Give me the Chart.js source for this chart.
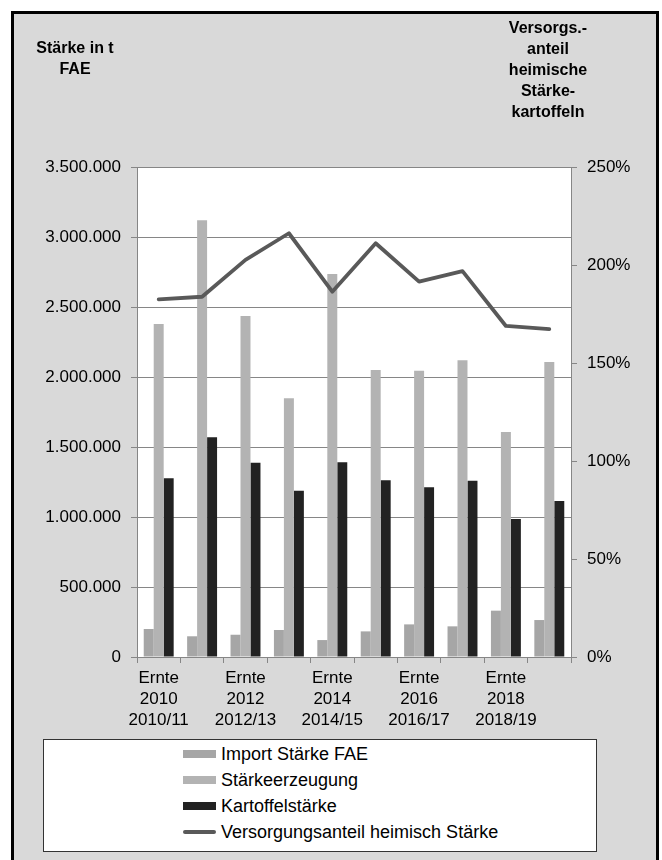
<!DOCTYPE html>
<html>
<head>
<meta charset="utf-8">
<script src="https://cdn.jsdelivr.net/npm/chart.js@4/dist/chart.umd.min.js"></script>
<style>
  html, body { margin: 0; padding: 0; background: #ffffff; }
  body { width: 662px; height: 860px; position: relative; overflow: hidden; font-family: "Liberation Sans", Arial, sans-serif; }
  #frame { position: absolute; left: 11px; top: 11px; width: 648px; height: 880px; box-sizing: border-box; border: 3px solid #000; background: #d9d9d9; }
  #c { position: absolute; left: 0; top: 0; }
  .ttl { position: absolute; font-weight: bold; font-size: 16px; line-height: 21px; color: #000; text-align: center; white-space: nowrap; }
  #legend { position: absolute; left: 43px; top: 739px; width: 554px; height: 113px; box-sizing: border-box; border: 1px solid #333; background: #fff; }
  .li { position: absolute; left: 139px; height: 22px; font-size: 18px; line-height: 22px; color: #000; white-space: nowrap; }
  .sw { position: absolute; left: 0; width: 33px; }
  .lt { position: absolute; left: 38px; top: 0; }
</style>
</head>
<body>
<div id="frame"></div>
<canvas id="c" width="662" height="860"></canvas>
<div class="ttl" style="left:25px; top:37px; width:100px;">Stärke in t<br>FAE</div>
<div class="ttl" style="left:488px; top:17px; width:120px;">Versorgs.-<br>anteil<br>heimische<br>Stärke-<br>kartoffeln</div>
<div id="legend"></div>
<script>
// ---- data ----
const categories = [
  ["Ernte", "2010", "2010/11"],
  ["Ernte", "2011", "2011/12"],
  ["Ernte", "2012", "2012/13"],
  ["Ernte", "2013", "2013/14"],
  ["Ernte", "2014", "2014/15"],
  ["Ernte", "2015", "2015/16"],
  ["Ernte", "2016", "2016/17"],
  ["Ernte", "2017", "2017/18"],
  ["Ernte", "2018", "2018/19"],
  ["Ernte", "2019", "2019/20"]
];
const importStaerkeFAE = [200000, 148000, 159000, 193000, 121000, 183000, 233000, 219000, 331000, 264000];
const staerkeerzeugung = [2378000, 3119000, 2436000, 1848000, 2736000, 2050000, 2045000, 2119000, 1607000, 2107000];
const kartoffelstaerke = [1276000, 1569000, 1388000, 1188000, 1391000, 1262000, 1212000, 1259000, 986000, 1114000];
const versorgungsanteil = [182.5, 183.8, 202.6, 216.2, 186.4, 211.1, 191.5, 196.9, 168.9, 167.3];
const seriesNames = ["Import Stärke FAE", "Stärkeerzeugung", "Kartoffelstärke", "Versorgungsanteil heimisch Stärke"];
const leftAxisTicks = [0, 500000, 1000000, 1500000, 2000000, 2500000, 3000000, 3500000];
const rightAxisTicks = [0, 50, 100, 150, 200, 250];

// ---- styling ----
const FONT = '"Liberation Sans", Arial, sans-serif';
const GRID = '#868686';
function fmtDE(v) { return String(Math.round(v)).replace(/\B(?=(\d{3})+(?!\d))/g, '.'); }

const plotBg = {
  id: 'plotBg',
  beforeDraw(chart) {
    const a = chart.chartArea, ctx = chart.ctx;
    ctx.save();
    ctx.fillStyle = '#ffffff';
    ctx.fillRect(a.left, a.top, a.right - a.left, a.bottom - a.top);
    ctx.restore();
  }
};

const chart = new Chart(document.getElementById('c'), {
  type: 'bar',
  data: {
    labels: categories,
    datasets: [
      { label: seriesNames[0], data: importStaerkeFAE, backgroundColor: '#a6a6a6', yAxisID: 'y', order: 1 },
      { label: seriesNames[1], data: staerkeerzeugung, backgroundColor: '#b3b3b3', yAxisID: 'y', order: 1 },
      { label: seriesNames[2], data: kartoffelstaerke, backgroundColor: '#222222', yAxisID: 'y', order: 1 },
      { label: seriesNames[3], data: versorgungsanteil, type: 'line', yAxisID: 'y1', order: 0,
        borderColor: '#595959', backgroundColor: '#595959', borderWidth: 3.8, pointRadius: 0,
        tension: 0, borderCapStyle: 'round', borderJoinStyle: 'round' }
    ]
  },
  options: {
    responsive: false,
    animation: false,
    devicePixelRatio: 1,
    categoryPercentage: 0.69,
    barPercentage: 1.0,
    layout: { padding: { top: 167, left: 0, right: 0, bottom: 0 } },
    plugins: { legend: { display: false }, tooltip: { enabled: false }, title: { display: false } },
    scales: {
      x: {
        offset: true,
        grid: { display: true, drawOnChartArea: false, drawTicks: true, tickLength: 6, color: GRID, offset: true },
        border: { display: true, color: GRID, width: 1 },
        ticks: {
          autoSkip: false, maxRotation: 0, minRotation: 0, padding: 5, color: '#000',
          font: { family: FONT, size: 17, lineHeight: 1.24 },
          callback: function (v, i) { return i % 2 === 0 ? this.getLabelForValue(v) : ''; }
        },
        afterFit(scale) { scale.height = 203; }
      },
      y: {
        position: 'left', min: leftAxisTicks[0], max: leftAxisTicks[leftAxisTicks.length - 1],
        afterBuildTicks(scale) { scale.ticks = leftAxisTicks.map(v => ({ value: v })); },
        grid: { color: GRID, lineWidth: 1, tickLength: 6, drawTicks: true },
        border: { display: true, color: GRID, width: 1 },
        ticks: { padding: 10, color: '#000', font: { family: FONT, size: 17 }, callback: v => fmtDE(v) },
        afterFit(scale) { scale.width = 137; }
      },
      y1: {
        position: 'right', min: rightAxisTicks[0], max: rightAxisTicks[rightAxisTicks.length - 1],
        afterBuildTicks(scale) { scale.ticks = rightAxisTicks.map(v => ({ value: v })); },
        grid: { drawOnChartArea: false, color: GRID, tickLength: 6, drawTicks: true },
        border: { display: true, color: GRID, width: 1 },
        ticks: { padding: 10, color: '#000', font: { family: FONT, size: 17 }, callback: v => v + '%' },
        afterFit(scale) { scale.width = 91; }
      }
    }
  },
  plugins: [plotBg]
});

// ---- HTML legend built from the chart's datasets ----
const legend = document.getElementById('legend');
const rowTops = [3, 29, 55, 81];
chart.data.datasets.forEach((ds, i) => {
  const row = document.createElement('div');
  row.className = 'li';
  row.style.top = rowTops[i] + 'px';
  const sw = document.createElement('div');
  sw.className = 'sw';
  if (ds.type === 'line') {
    sw.style.top = '9px'; sw.style.height = '4px'; sw.style.borderRadius = '2px';
    sw.style.background = ds.borderColor;
  } else {
    sw.style.top = '7px'; sw.style.height = '8px';
    sw.style.background = ds.backgroundColor;
  }
  const t = document.createElement('span');
  t.className = 'lt';
  t.textContent = ds.label;
  row.appendChild(sw); row.appendChild(t);
  legend.appendChild(row);
});
</script>
</body>
</html>
